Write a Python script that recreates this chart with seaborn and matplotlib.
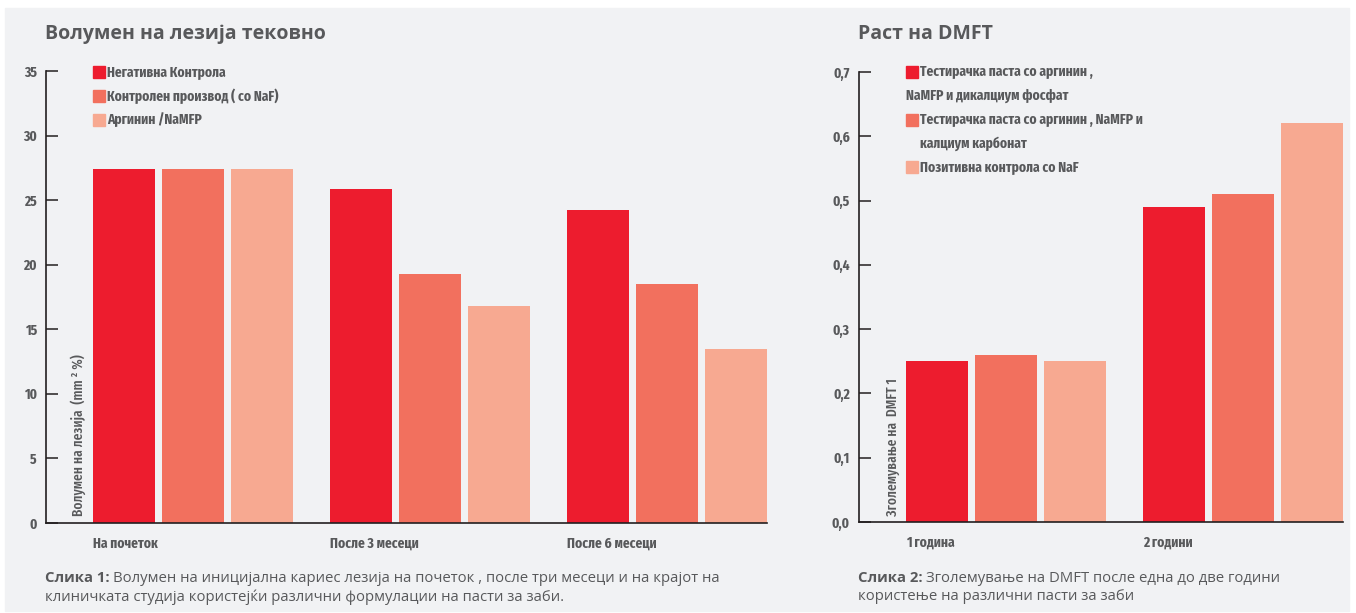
import matplotlib
matplotlib.use("Agg")
import matplotlib.pyplot as plt
import seaborn as sns
import pandas as pd
from matplotlib.patches import Rectangle

# --- data: lesion volume (left chart) ---
lesion_periods = ["На почеток", "После 3 месеци", "После 6 месеци"]
lesion_groups = ["Негативна Контрола", "Контролен производ ( со NaF)", "Аргинин /NaMFP"]
lesion_negative = [27.4, 25.9, 24.2]
lesion_naf = [27.4, 19.3, 18.5]
lesion_arginine = [27.4, 16.8, 13.5]

# --- data: DMFT increase (right chart) ---
dmft_periods = ["1 година", "2 години"]
dmft_groups = ["Тестирачка паста со аргинин ,\nNaMFP и дикалциум фосфат",
               "Тестирачка паста со аргинин , NaMFP и\nкалциум карбонат",
               "Позитивна контрола со NaF"]
dmft_dicalcium = [0.25, 0.49]
dmft_carbonate = [0.26, 0.51]
dmft_naf = [0.25, 0.62]

colors = ["#ed1c2e", "#f2705e", "#f7a991"]
text_grey = "#58595b"
axis_black = "#231f20"

W, H = 1356, 613
COND = ["Fira Sans Extra Condensed", "DejaVu Sans"]
SANS = ["Open Sans", "DejaVu Sans"]

plt.rcParams["font.family"] = COND
plt.rcParams["font.stretch"] = "condensed"
plt.rcParams["font.weight"] = "bold"


def fx(x):
    return x / W


def fy(y):
    return 1 - y / H


fig = plt.figure(figsize=(W / 100, H / 100), dpi=100)
fig.patch.set_facecolor("white")
fig.add_artist(Rectangle((fx(5), fy(611)), fx(1344), (611 - 8) / H,
                         transform=fig.transFigure, color="#f1f2f4", zorder=0))


def bar_chart(ax, periods, groups, series, yticks, fmt):
    rows = []
    for g, vals in zip(groups, series):
        for p, v in zip(periods, vals):
            rows.append((p, g, v))
    df = pd.DataFrame(rows, columns=["period", "group", "value"])
    sns.barplot(df, x="period", y="value", hue="group", order=periods,
                hue_order=groups, palette=colors, width=0.873, gap=0.1,
                saturation=1, legend=False, ax=ax, zorder=2)
    ax.set_facecolor("none")
    n = len(periods)
    ax.set_xlim(-0.62, n - 1 + 0.422)
    ax.set_ylim(yticks[0], yticks[-1])
    ax.set_xticks([i - 0.422 for i in range(n)])
    ax.set_xticklabels(periods, ha="left")
    ax.set_yticks(yticks)
    ax.set_yticklabels([fmt(t) for t in yticks])
    ax.set_xlabel("")
    ax.set_ylabel("")
    for s in ["top", "right"]:
        ax.spines[s].set_visible(False)
    for s in ["left", "bottom"]:
        ax.spines[s].set_color(axis_black)
        ax.spines[s].set_linewidth(1.2)
        ax.spines[s].set_zorder(3)
    ax.tick_params(axis="y", direction="in", length=8.6, width=1.1,
                   color=axis_black, pad=6.5, labelcolor=text_grey, labelsize=10.5)
    ax.tick_params(axis="x", length=0, pad=10, labelcolor=text_grey, labelsize=10.5)


ax1 = fig.add_axes([fx(46), fy(523), 721 / W, 452 / H])
bar_chart(ax1, lesion_periods, lesion_groups,
          [lesion_negative, lesion_naf, lesion_arginine],
          list(range(0, 36, 5)), lambda t: f"{t}")

ax2 = fig.add_axes([fx(859), fy(522), 484 / W, 450 / H])
bar_chart(ax2, dmft_periods, dmft_groups,
          [dmft_dicalcium, dmft_carbonate, dmft_naf],
          [i / 10 for i in range(8)], lambda t: f"{t:.1f}".replace(".", ","))

# titles
fig.text(fx(45), fy(34), "Волумен на лезија тековно", family=SANS, weight="bold",
         stretch="normal", size=14, color=text_grey, va="center")
fig.text(fx(858), fy(34), "Раст на DMFT", family=SANS, weight="bold",
         stretch="normal", size=14, color=text_grey, va="center")

# rotated y labels inside the plots
fig.text(fx(78), fy(516), "Волумен на лезија  (mm ² %)", rotation=90,
         ha="center", va="bottom", size=10.5, weight="medium", color=text_grey)
fig.text(fx(893), fy(516), "Зголемување на  DMFT 1", rotation=90,
         ha="center", va="bottom", size=10.5, weight="medium", color=text_grey)


# legends drawn by hand (boxes + wrapped text)
def legend(box_x, text_x, top_y, labels, wrap_at_box):
    y = top_y
    for lab, col, at_box in zip(labels, colors, wrap_at_box):
        fig.add_artist(Rectangle((fx(box_x), fy(y + 6)), 12 / W, 12 / H,
                                 transform=fig.transFigure, color=col))
        for k, line in enumerate(lab.split("\n")):
            x = text_x if (k == 0 or not at_box) else box_x
            fig.text(fx(x), fy(y), line, size=10.5, color=text_grey, va="center")
            y += 23.8


legend(93, 107, 72, lesion_groups, [False] * 3)
legend(906, 920, 72, dmft_groups, [True, False, False])


# captions
def caption(x, head, line1, line2):
    t = fig.text(fx(x), fy(578), head, family=SANS, weight="bold", stretch="normal",
                 size=10.7, color=text_grey, va="center")
    bb = t.get_window_extent(renderer=fig.canvas.get_renderer())
    fig.text((bb.x1 + 3) / W, fy(578), line1, family=SANS, weight="normal",
             stretch="normal", size=10.7, color=text_grey, va="center")
    fig.text(fx(x), fy(597), line2, family=SANS, weight="normal", stretch="normal",
             size=10.7, color=text_grey, va="center")


caption(45, "Слика 1:",
        "Волумен на иницијална кариес лезија на почеток , после три месеци и на крајот на",
        "клиничката студија користејќи различни формулации на пасти за заби.")
caption(858, "Слика 2:",
        "Зголемување на DMFT после една до две години",
        "користење на различни пасти за заби")

fig.savefig("out.png", dpi=100)
